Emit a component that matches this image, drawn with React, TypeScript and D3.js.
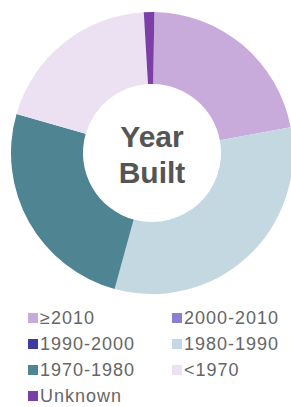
import { useEffect, useRef } from "react";
import * as d3 from "d3";

const WIDTH = 291;
const HEIGHT = 407;

const categories = ["≥2010", "2000-2010", "1990-2000", "1980-1990", "1970-1980", "<1970", "Unknown"];
const shares = [21.8, 0, 0, 32.2, 25.2, 19.6, 1.2];
const colors = ["#c8aadb", "#8a80cf", "#3e3b9c", "#c4d8e2", "#4f8493", "#ece1f2", "#7c3fa8"];

const CX = 152;
const CY = 153;
const OUTER_R = 141;
const INNER_R = 69;
const ROTATE = 0.017; // chart starts just past 12 o'clock

export default function App() {
  const svgRef = useRef<SVGSVGElement>(null);

  useEffect(() => {
    const svg = d3.select(svgRef.current);
    svg.selectAll("*").remove();

    const rows = categories.map((c, i) => ({ name: c, value: shares[i], color: colors[i] }));

    const pie = d3
      .pie<any>()
      .sort(null)
      .startAngle(ROTATE)
      .endAngle(2 * Math.PI + ROTATE)
      .value((d) => d.value);
    const arc = d3.arc<any>().innerRadius(INNER_R).outerRadius(OUTER_R);

    svg
      .append("g")
      .attr("transform", `translate(${CX},${CY})`)
      .selectAll("path")
      .data(pie(rows).filter((d) => d.data.value > 0))
      .join("path")
      .attr("d", arc)
      .attr("fill", (d) => d.data.color);

    const label = svg
      .append("g")
      .attr("text-anchor", "middle")
      .attr("font-family", "'Liberation Sans', Arial, sans-serif")
      .attr("font-weight", "bold")
      .attr("font-size", 30)
      .attr("fill", "#555555");
    label.append("text").attr("x", CX).attr("y", CY - 6).text("Year");
    label.append("text").attr("x", CX).attr("y", CY + 30).text("Built");

    // legend: two columns, filled row by row
    const colX = d3.scalePoint<number>().domain([0, 1]).range([28, 172]);
    const rowY = d3.scaleLinear().domain([0, 1]).range([318, 344]);

    const items = svg
      .append("g")
      .attr("font-family", "'Liberation Sans', Arial, sans-serif")
      .attr("font-size", 18)
      .attr("fill", "#666666")
      .selectAll("g")
      .data(rows)
      .join("g")
      .attr("transform", (_, i) => `translate(${colX(i % 2)},${rowY(Math.floor(i / 2))})`);

    items
      .append("rect")
      .attr("x", 0)
      .attr("y", -5)
      .attr("width", 10)
      .attr("height", 10)
      .attr("fill", (d) => d.color);

    items
      .append("text")
      .attr("x", 12)
      .attr("dy", "0.36em")
      .attr("letter-spacing", 1)
      .text((d) => d.name);
  }, []);

  return (
    <svg
      ref={svgRef}
      width={WIDTH}
      height={HEIGHT}
      style={{ position: "absolute", left: 0, top: 0, background: "#fff" }}
    />
  );
}
